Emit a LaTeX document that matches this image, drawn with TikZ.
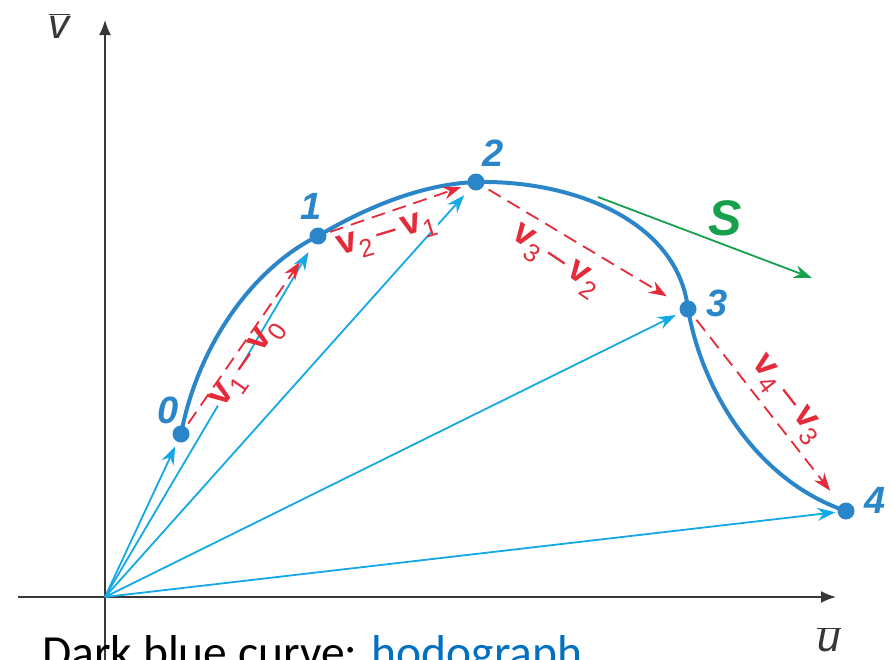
\documentclass[tikz,border=0pt]{standalone}
\usepackage{fontspec}
\setmainfont{Liberation Sans}
\newfontfamily\calibri{Carlito}
\usetikzlibrary{arrows.meta}
\definecolor{hodoblue}{RGB}{42,134,200}
\definecolor{velcyan}{RGB}{20,168,230}
\definecolor{diffred}{RGB}{229,42,58}
\definecolor{sgreen}{RGB}{22,160,75}
\definecolor{axisgray}{RGB}{55,55,55}
\definecolor{linkblue}{RGB}{0,112,192}
\newcommand{\vdiff}[2]{\textbf{v}\textsubscript{#1}\,\textendash\,\textbf{v}\textsubscript{#2}}
\tikzset{
  axis/.style={draw=axisgray, line width=1.8pt, -{Latex[length=15pt,width=12pt]}},
  pt/.style={circle, fill=hodoblue, inner sep=0pt, minimum size=17pt},
  ptlabel/.style={text=hodoblue, font=\fontsize{38}{40}\selectfont\bfseries\itshape},
  hodo/.style={draw=hodoblue, line width=4pt},
  vel/.style={draw=velcyan, line width=1.8pt, -{Stealth[length=18pt,width=13pt,inset=6pt]}},
  diff/.style={draw=diffred, line width=1.8pt, dash pattern=on 14pt off 8pt, -{Stealth[length=18pt,width=13pt,inset=6pt]}},
  difflabel/.style={text=diffred, fill=white, inner sep=1pt, text height=0.9em, text depth=0.25em, font=\fontsize{36}{38}\selectfont},
  sarrow/.style={draw=sgreen, line width=1.8pt, -{Stealth[length=18pt,width=13pt,inset=6pt]}},
}
\begin{document}
\begin{tikzpicture}[x=1pt,y=-1pt]
\path[use as bounding box] (0,0) rectangle (894,659);
% axes
\coordinate (O) at (105,597);
\coordinate (xs) at (18,597);
\coordinate (xe) at (836,597);
\coordinate (ys) at (105,665);
\coordinate (ye) at (105,20);
\draw[axis] (xs) -- (xe);
\draw[axis] (ys) -- (ye);
\node[font=\fontsize{42}{44}\selectfont, text=axisgray] (vlab) at (59,26) {$\overline{\mbox{\itshape v}}$};
\node[font=\fontsize{42}{44}\selectfont, text=axisgray] (ulab) at (829,640) {$\overline{\mbox{\itshape u}}$};
% points
\node[pt] (p0) at (181,434) {};
\node[pt] (p1) at (318,236) {};
\node[pt] (p2) at (476,182) {};
\node[pt] (p3) at (688,309) {};
\node[pt] (p4) at (846,511) {};
% hodograph curve
\draw[hodo] (p0.center) .. controls (198,345) and (253,268) .. (p1.center)
  .. controls (370,205) and (425,184) .. (p2.center)
  .. controls (575,180) and (678,222) .. (p3.center)
  .. controls (703,395) and (760,482) .. (p4.center);
% velocity vectors
\draw[vel, shorten >=5pt] (O) -- (p0);
\draw[vel, shorten >=10pt] (O) -- (p1);
\draw[vel, shorten >=9pt] (O) -- (p2);
\draw[vel, shorten >=5pt] (O) -- (p3);
\draw[vel, shorten >=2pt] (O) -- (p4);
% difference labels (white background hides velocity lines)
\node[difflabel, rotate=55] (l10) at (250,365) {\vdiff{1}{0}};
\node[difflabel, rotate=17] (l21) at (388,238) {\vdiff{2}{1}};
\node[difflabel, rotate=-34] (l32) at (554,263) {\vdiff{3}{2}};
\node[difflabel, rotate=-52] (l43) at (785,401) {\vdiff{4}{3}};
% difference vectors
\draw[diff, shorten <=4pt, shorten >=23pt] (p0) -- (p1);
\draw[diff, shorten <=4pt, shorten >=7pt] (p1) -- (p2);
\draw[diff, shorten <=6pt, shorten >=16pt] (p2) -- (p3);
\draw[diff, shorten <=5pt, shorten >=17pt] (p3) -- (p4);
% point labels
\node[ptlabel] (n0) at (168,410) {0};
\node[ptlabel] (n1) at (311,206) {1};
\node[ptlabel] (n2) at (493,153) {2};
\node[ptlabel] (n3) at (717,303) {3};
\node[ptlabel] (n4) at (875,500) {4};
% S
\coordinate (s0) at (598,197);
\coordinate (s1) at (812,278);
\draw[sarrow] (s0) -- (s1);
\node[text=sgreen, font=\fontsize{50}{52}\selectfont\bfseries\itshape] (S) at (725,218) {S};
% caption
\node[anchor=base west, inner sep=0pt, font=\calibri\fontsize{47.5}{50}\selectfont] (cap) at (42,668) {Dark blue curve: \textcolor{linkblue}{hodograph}};
\end{tikzpicture}
\end{document}
